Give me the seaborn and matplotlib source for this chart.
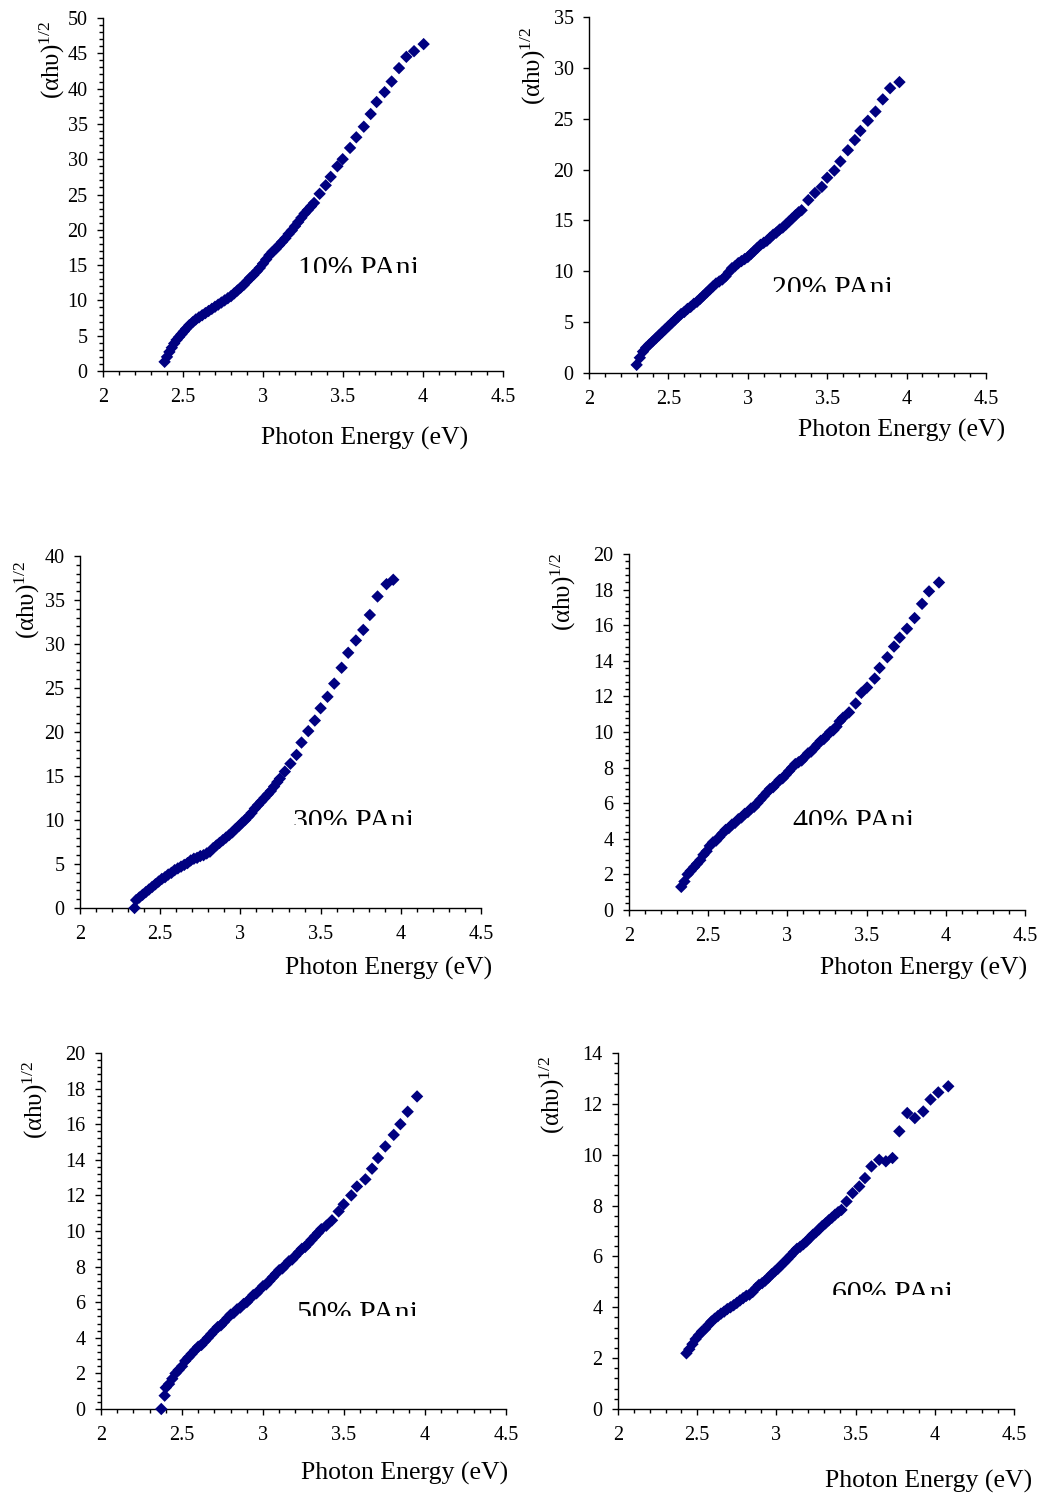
import matplotlib
matplotlib.use("Agg")
import matplotlib.pyplot as plt
import seaborn as sns
import pandas as pd
from matplotlib.transforms import Bbox, TransformedBbox
from matplotlib.ticker import MultipleLocator, AutoMinorLocator

# ---------------- data ----------------
energy_10 = [2.385, 2.40, 2.415, 2.43, 2.445, 2.46, 2.475, 2.49, 2.505, 2.52, 2.54, 2.56, 2.58, 2.60,
             2.62, 2.64, 2.66, 2.68, 2.70, 2.72, 2.74, 2.76, 2.78, 2.80, 2.82, 2.84, 2.86, 2.88, 2.90,
             2.92, 2.94, 2.96, 2.98, 3.00, 3.02, 3.04, 3.06, 3.08, 3.10, 3.12, 3.14, 3.16, 3.18, 3.20,
             3.22, 3.24, 3.26, 3.28, 3.30, 3.319, 3.354, 3.392, 3.423, 3.465, 3.498, 3.544, 3.583, 3.63,
             3.673, 3.71, 3.76, 3.804, 3.85, 3.896, 3.944, 4.004]
alpha_10 = [1.3, 2.0, 2.7, 3.3, 3.9, 4.4, 4.8, 5.2, 5.6, 6.0, 6.5, 6.9, 7.3, 7.6,
            7.9, 8.2, 8.5, 8.8, 9.1, 9.4, 9.7, 10.0, 10.3, 10.6, 11.0, 11.4, 11.8, 12.2, 12.7,
            13.2, 13.6, 14.1, 14.6, 15.2, 15.8, 16.4, 16.9, 17.3, 17.8, 18.3, 18.8, 19.4, 19.9, 20.5,
            21.1, 21.7, 22.3, 22.8, 23.3, 23.8, 25.1, 26.3, 27.5, 29.0, 30.0, 31.6, 33.1, 34.6,
            36.4, 38.1, 39.5, 41.0, 42.9, 44.5, 45.3, 46.3]

energy_20 = [2.30, 2.32, 2.34, 2.36, 2.38, 2.40, 2.42, 2.44, 2.46, 2.48, 2.50, 2.52, 2.54, 2.56, 2.58,
             2.60, 2.62, 2.64, 2.66, 2.68, 2.70, 2.72, 2.74, 2.76, 2.78, 2.80, 2.82, 2.84, 2.86, 2.88,
             2.90, 2.92, 2.94, 2.96, 2.98, 3.00, 3.02, 3.04, 3.06, 3.08, 3.10, 3.12, 3.14, 3.16, 3.18,
             3.20, 3.22, 3.24, 3.26, 3.28, 3.30, 3.32, 3.339, 3.381, 3.423, 3.466, 3.50, 3.545, 3.583,
             3.63, 3.674, 3.709, 3.756, 3.804, 3.85, 3.896, 3.955]
alpha_20 = [0.8, 1.5, 2.1, 2.5, 2.8, 3.1, 3.4, 3.7, 4.0, 4.3, 4.6, 4.9, 5.2, 5.5, 5.8,
            6.0, 6.3, 6.5, 6.8, 7.0, 7.3, 7.6, 7.9, 8.2, 8.5, 8.8, 9.0, 9.2, 9.5, 9.9,
            10.3, 10.5, 10.8, 11.0, 11.2, 11.4, 11.7, 12.0, 12.3, 12.6, 12.8, 13.0, 13.3, 13.6, 13.8,
            14.1, 14.3, 14.6, 14.9, 15.2, 15.5, 15.8, 16.0, 17.0, 17.7, 18.3, 19.2, 19.9, 20.8,
            21.9, 22.9, 23.8, 24.8, 25.7, 26.9, 28.0, 28.6]

energy_30 = [2.34, 2.35, 2.37, 2.39, 2.41, 2.43, 2.45, 2.47, 2.49, 2.51, 2.53, 2.55, 2.57, 2.59, 2.61,
             2.63, 2.65, 2.67, 2.69, 2.71, 2.73, 2.75, 2.77, 2.79, 2.81, 2.83, 2.85, 2.87, 2.89, 2.91,
             2.93, 2.95, 2.97, 2.99, 3.01, 3.03, 3.05, 3.07, 3.09, 3.11, 3.13, 3.15, 3.17, 3.19, 3.21,
             3.23, 3.246, 3.277, 3.312, 3.35, 3.381, 3.423, 3.464, 3.50, 3.543, 3.585, 3.631, 3.672,
             3.72, 3.766, 3.807, 3.855, 3.911, 3.953]
alpha_30 = [0.0, 0.9, 1.2, 1.5, 1.8, 2.1, 2.4, 2.7, 3.0, 3.3, 3.5, 3.8, 4.0, 4.3, 4.5,
            4.7, 4.9, 5.1, 5.4, 5.6, 5.7, 5.9, 6.0, 6.2, 6.4, 6.8, 7.1, 7.4, 7.7, 8.0,
            8.3, 8.6, 9.0, 9.3, 9.7, 10.0, 10.4, 10.8, 11.3, 11.7, 12.1, 12.5, 12.9, 13.3, 13.8,
            14.3, 14.7, 15.5, 16.4, 17.4, 18.8, 20.1, 21.3, 22.7, 24.0, 25.5, 27.3, 29.0,
            30.4, 31.6, 33.3, 35.4, 36.8, 37.3]

energy_40 = [2.33, 2.35, 2.37, 2.39, 2.41, 2.43, 2.45, 2.47, 2.49, 2.51, 2.53, 2.55, 2.57, 2.59, 2.61,
             2.63, 2.65, 2.67, 2.69, 2.71, 2.73, 2.75, 2.77, 2.79, 2.81, 2.83, 2.85, 2.87, 2.89, 2.91,
             2.93, 2.95, 2.97, 2.99, 3.01, 3.03, 3.05, 3.07, 3.09, 3.11, 3.13, 3.15, 3.17, 3.19, 3.21,
             3.23, 3.25, 3.27, 3.29, 3.31, 3.33, 3.351, 3.389, 3.431, 3.467, 3.503, 3.551, 3.582,
             3.631, 3.673, 3.709, 3.755, 3.803, 3.85, 3.894, 3.957]
alpha_40 = [1.3, 1.6, 2.0, 2.2, 2.4, 2.6, 2.8, 3.1, 3.3, 3.6, 3.8, 3.9, 4.1, 4.3, 4.5,
            4.6, 4.8, 4.9, 5.1, 5.2, 5.4, 5.5, 5.7, 5.8, 6.0, 6.2, 6.4, 6.6, 6.8, 6.9,
            7.1, 7.3, 7.4, 7.6, 7.8, 8.0, 8.2, 8.3, 8.4, 8.6, 8.8, 8.9, 9.1, 9.3, 9.5,
            9.6, 9.8, 10.0, 10.1, 10.3, 10.6, 10.8, 11.1, 11.6, 12.2, 12.5, 13.0, 13.6,
            14.2, 14.8, 15.3, 15.8, 16.4, 17.2, 17.9, 18.4]

energy_50 = [2.372, 2.393, 2.40, 2.42, 2.44, 2.46, 2.48, 2.50, 2.52, 2.54, 2.56, 2.58, 2.60, 2.62, 2.64,
             2.66, 2.68, 2.70, 2.72, 2.74, 2.76, 2.78, 2.80, 2.82, 2.84, 2.86, 2.88, 2.90, 2.92, 2.94,
             2.96, 2.98, 3.00, 3.02, 3.04, 3.06, 3.08, 3.10, 3.12, 3.14, 3.16, 3.18, 3.20, 3.22, 3.24,
             3.26, 3.28, 3.30, 3.32, 3.34, 3.36, 3.391, 3.426, 3.467, 3.498, 3.545, 3.58, 3.632,
             3.673, 3.71, 3.755, 3.807, 3.848, 3.893, 3.951]
alpha_50 = [0.0, 0.75, 1.2, 1.4, 1.7, 2.0, 2.2, 2.4, 2.7, 2.9, 3.1, 3.3, 3.5, 3.6, 3.8,
            4.0, 4.2, 4.4, 4.6, 4.7, 4.9, 5.1, 5.3, 5.4, 5.6, 5.7, 5.9, 6.0, 6.2, 6.4,
            6.5, 6.7, 6.9, 7.0, 7.2, 7.4, 7.6, 7.8, 7.9, 8.1, 8.3, 8.4, 8.6, 8.8, 9.0,
            9.1, 9.3, 9.5, 9.7, 9.9, 10.1, 10.3, 10.6, 11.1, 11.5, 12.0, 12.5, 12.9,
            13.5, 14.1, 14.75, 15.4, 16.0, 16.7, 17.56]

energy_60 = [2.432, 2.45, 2.47, 2.49, 2.51, 2.53, 2.55, 2.57, 2.59, 2.61, 2.63, 2.65, 2.67, 2.69, 2.71,
             2.73, 2.75, 2.77, 2.79, 2.81, 2.83, 2.85, 2.87, 2.89, 2.91, 2.93, 2.95, 2.97, 2.99, 3.01,
             3.03, 3.05, 3.07, 3.09, 3.11, 3.13, 3.15, 3.17, 3.19, 3.21, 3.23, 3.25, 3.27, 3.29, 3.31,
             3.33, 3.35, 3.37, 3.39, 3.411, 3.443, 3.481, 3.523, 3.559, 3.60, 3.649, 3.691, 3.733,
             3.776, 3.826, 3.874, 3.927, 3.973, 4.022, 4.085]
alpha_60 = [2.19, 2.35, 2.55, 2.75, 2.9, 3.05, 3.15, 3.3, 3.44, 3.55, 3.65, 3.75, 3.83, 3.93, 4.0,
            4.08, 4.17, 4.27, 4.36, 4.45, 4.5, 4.6, 4.75, 4.88, 4.95, 5.05, 5.17, 5.3, 5.41, 5.52,
            5.65, 5.77, 5.9, 6.03, 6.17, 6.3, 6.38, 6.48, 6.59, 6.72, 6.85, 6.95, 7.07, 7.2, 7.3,
            7.42, 7.52, 7.64, 7.74, 7.83, 8.16, 8.49, 8.75, 9.08, 9.54, 9.80, 9.74, 9.87,
            10.92, 11.64, 11.44, 11.7, 12.17, 12.45, 12.69]

sample_labels = ["10% PAni", "20% PAni", "30% PAni", "40% PAni", "50% PAni", "60% PAni"]
y_max = [50, 35, 40, 20, 20, 14]
y_major = [5, 5, 5, 2, 2, 2]
y_minor_div = [5, 0, 5, 5, 5, 5]
x_ticks = [2, 2.5, 3, 3.5, 4, 4.5]
x_ticklabels = ["2", "2.5", "3", "3.5", "4", "4.5"]
x_label = "Photon Energy (eV)"
y_label = "(αhυ)$^{\\mathrm{1/2}}$"

series = [(energy_10, alpha_10), (energy_20, alpha_20), (energy_30, alpha_30),
          (energy_40, alpha_40), (energy_50, alpha_50), (energy_60, alpha_60)]

# ---------------- layout (pixels) ----------------
W, H = 1054, 1496
# left, top, right, bottom of each plot area
boxes = [(103, 18, 503, 371), (589, 17, 986, 373),
         (80, 556, 481, 908), (629, 554, 1025, 910),
         (101, 1053, 506, 1409), (618, 1053, 1014, 1409)]
ylabel_pos = [(52, 60), (533, 66), (27, 600), (563, 592), (35, 1100), (552, 1095)]
xlabel_pos = [(365, 445), (902, 437), (389, 975), (924, 975), (405, 1480), (929, 1488)]
note_pos = [(298, 276, 273), (772, 296, 292), (293, 829, 825),
            (793, 829, 825), (297, 1321, 1316), (832, 1301, 1295)]

sns.set_style("ticks")
plt.rcParams["font.family"] = ["Liberation Serif", "DejaVu Serif"]
plt.rcParams["mathtext.fontset"] = "custom"
plt.rcParams["mathtext.rm"] = "Liberation Serif"
plt.rcParams["mathtext.it"] = "Liberation Serif:italic"
plt.rcParams["text.color"] = "black"
plt.rcParams["xtick.color"] = "black"
plt.rcParams["ytick.color"] = "black"

fig = plt.figure(figsize=(W / 100, H / 100), dpi=100)
fig.patch.set_facecolor("white")

MARKER_COLOR = "#000080"

for i, (ex, ay) in enumerate(series):
    l, t, r, b = boxes[i]
    ax = fig.add_axes([l / W, 1 - b / H, (r - l) / W, (b - t) / H])
    df = pd.DataFrame({"energy": ex, "alpha": ay})
    sns.scatterplot(data=df, x="energy", y="alpha", ax=ax, marker="D", s=40,
                    color=MARKER_COLOR, edgecolor="none", linewidth=0, zorder=3, clip_on=False)
    ax.set_xlim(2, 4.5)
    ax.set_ylim(0, y_max[i])
    ax.set_xticks(x_ticks)
    ax.set_xticklabels(x_ticklabels)
    ax.xaxis.set_minor_locator(MultipleLocator(0.1))
    ax.yaxis.set_major_locator(MultipleLocator(y_major[i]))
    if y_minor_div[i]:
        ax.yaxis.set_minor_locator(AutoMinorLocator(y_minor_div[i]))
    ax.set_xlabel("")
    ax.set_ylabel("")
    for side in ("top", "right"):
        ax.spines[side].set_visible(False)
    for side in ("left", "bottom"):
        ax.spines[side].set_linewidth(1.0)
        ax.spines[side].set_color("black")
    ax.tick_params(axis="both", which="major", direction="out", length=4, width=1.0,
                   labelsize=14.5, colors="black")
    ax.tick_params(axis="both", which="minor", direction="out", length=3, width=1.0, colors="black")
    ax.tick_params(axis="x", which="major", pad=8)
    ax.tick_params(axis="y", which="major", pad=7)
    ax.set_facecolor("white")

    # y label
    yx, yy = ylabel_pos[i]
    fig.text(yx / W, 1 - yy / H, y_label, rotation=90, ha="center", va="center", fontsize=18,
             color="black")
    # x label
    xx, xy = xlabel_pos[i]
    fig.text(xx / W, 1 - xy / H, x_label, ha="center", va="baseline", fontsize=18.5, color="black")
    # sample label (clipped at bottom as in the source)
    nx, ny, nclip = note_pos[i]
    txt = fig.text(nx / W, 1 - ny / H, sample_labels[i], ha="left", va="baseline",
                   fontsize=21.5, color="black")
    clip = TransformedBbox(Bbox([[0, 1 - nclip / H], [1, 1]]), fig.transFigure)
    txt.set_clip_box(clip)
    txt.set_clip_on(True)

fig.savefig("out.png", dpi=100, facecolor="white")
